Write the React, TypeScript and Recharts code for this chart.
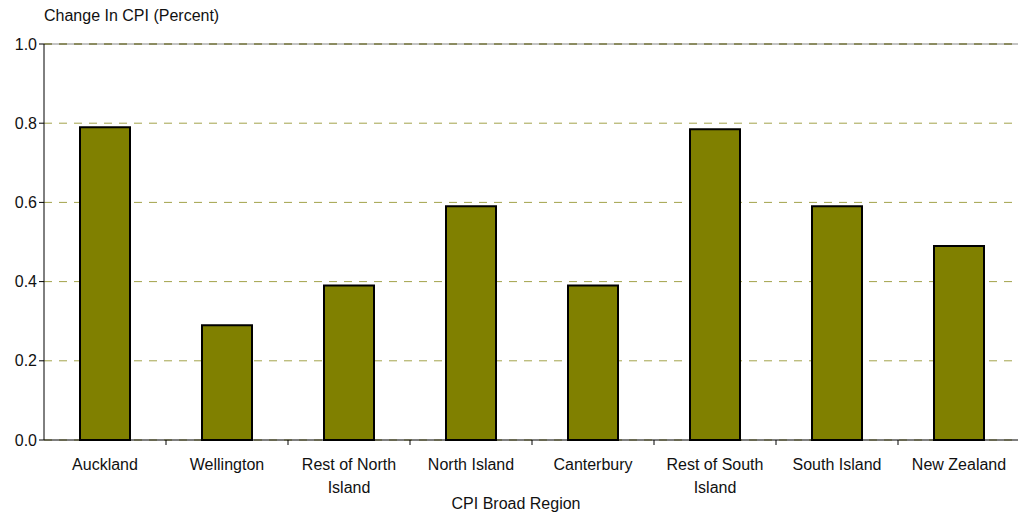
import { BarChart, Bar, XAxis, YAxis, CartesianGrid, ReferenceLine, Text } from "recharts";

const regions = [
  "Auckland",
  "Wellington",
  "Rest of North Island",
  "North Island",
  "Canterbury",
  "Rest of South Island",
  "South Island",
  "New Zealand",
];
const cpiChange = [0.79, 0.29, 0.39, 0.59, 0.39, 0.785, 0.59, 0.49];
const yTicks = [0, 0.2, 0.4, 0.6, 0.8, 1.0];

const data = regions.map((region, i) => ({ region, change: cpiChange[i] }));

const W = 1020;
const H = 513;
const LEFT = 44;
const BAND = (W - LEFT) / regions.length;
const FONT = '"Liberation Sans", Arial, sans-serif';

function RegionTick(props: any) {
  const { x, y, payload, index } = props;
  return (
    <g>
      {index > 0 && (
        <line x1={x - BAND / 2} x2={x - BAND / 2} y1={y - 8} y2={y - 3} stroke="#000" />
      )}
      <Text
        x={x}
        y={y + 22}
        width={112}
        textAnchor="middle"
        verticalAnchor="middle"
        lineHeight={23}
        fontSize={16}
        fontFamily={FONT}
        fill="#111"
      >
        {payload.value}
      </Text>
    </g>
  );
}

export default function App() {
  return (
    <div style={{ position: "absolute", left: 0, top: 0, width: 1018, height: H, overflow: "hidden", background: "#fff" }}>
      <div style={{ position: "absolute", left: 44, top: 7, fontFamily: FONT, fontSize: 16, color: "#111" }}>
        Change In CPI (Percent)
      </div>
      <div style={{ position: "absolute", left: 0, top: 495, width: 1032, textAlign: "center", fontFamily: FONT, fontSize: 16, color: "#111" }}>
        CPI Broad Region
      </div>
      <BarChart width={W} height={H} data={data} margin={{ top: 44, right: 0, bottom: 0, left: 0 }}>
        <CartesianGrid vertical={false} stroke="#a3a34a" strokeDasharray="8 7" />
        <ReferenceLine y={1} stroke="#8a8a8a" />
        <ReferenceLine y={1} stroke="#6b6b2a" strokeDasharray="8 7" />
        <XAxis
          dataKey="region"
          height={73}
          axisLine={{ stroke: "#000" }}
          tickLine={false}
          interval={0}
          tick={<RegionTick />}
        />
        <YAxis
          width={LEFT}
          domain={[0, 1]}
          ticks={yTicks}
          tickFormatter={(v: number) => v.toFixed(1)}
          axisLine={{ stroke: "#000" }}
          tickLine={{ stroke: "#000" }}
          tickSize={5}
          tick={{ fontSize: 16, fontFamily: FONT, fill: "#111" }}
        />
        <Bar dataKey="change" fill="#808000" stroke="#000" strokeWidth={2} barSize={50} isAnimationActive={false} />
      </BarChart>
    </div>
  );
}
